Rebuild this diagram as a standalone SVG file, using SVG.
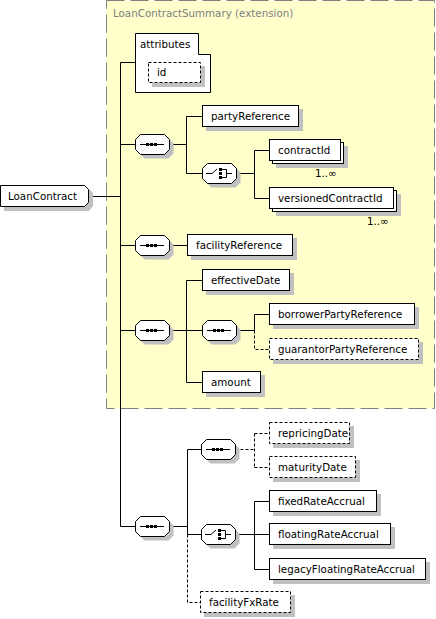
<svg xmlns="http://www.w3.org/2000/svg" xmlns:xlink="http://www.w3.org/1999/xlink" width="436" height="619" viewBox="0 0 436 619">
<style>
.box{fill:#fff;stroke:#000;stroke-width:1}
.opt{fill:#fff;stroke:#000;stroke-width:1;stroke-dasharray:3 2}
.sh{fill:#c0c0c0;stroke:none}
.ln{fill:none;stroke:#000;stroke-width:1}
.dl{fill:none;stroke:#000;stroke-width:1;stroke-dasharray:3 2}
.ext{fill:#ffffcc;stroke:#808080;stroke-width:1;stroke-dasharray:18 6}
text{font-family:"DejaVu Sans",Verdana,sans-serif;font-size:10.3px;fill:#000}
.extl{fill:#808080}
.ic{fill:#000;stroke:none}
</style>
<defs>
<g id="seq">
<path class="sh" d="M9.5,4.5 H33.5 L38.5,9.5 V19.5 L33.5,24.5 H9.5 L4.5,19.5 V9.5 Z"/>
<path class="box" d="M5.5,0.5 H29.5 L34.5,5.5 V15.5 L29.5,20.5 H5.5 L0.5,15.5 V5.5 Z"/>
<path class="ln" d="M5,10.5 H29"/>
<rect class="ic" x="11" y="9" width="3" height="3"/>
<rect class="ic" x="15" y="9" width="3" height="3"/>
<rect class="ic" x="19" y="9" width="3" height="3"/>
</g>
<g id="choice">
<path class="sh" d="M9.5,4.5 H33.5 L38.5,9.5 V19.5 L33.5,24.5 H9.5 L4.5,19.5 V9.5 Z"/>
<path class="box" d="M5.5,0.5 H29.5 L34.5,5.5 V15.5 L29.5,20.5 H5.5 L0.5,15.5 V5.5 Z"/>
<path class="ln" d="M4,10.5 H10 L15,6 M20,6.5 H24.5 V14.5 H20 M24.5,10.5 H30"/>
<rect class="ic" x="17" y="5" width="3" height="3"/>
<rect class="ic" x="17" y="9" width="3" height="3"/>
<rect class="ic" x="17" y="13" width="3" height="3"/>
</g>
</defs>

<g id="extension">
<rect class="ext" x="106.5" y="0.5" width="328" height="408"/>
<text class="extl" x="113" y="17">LoanContractSummary (extension)</text>
</g>

<g id="connectors">
<path class="ln" d="M89,196.5 H120.5 M120.5,62.5 V526.5 M120.5,62.5 H135.5 M120.5,144.5 H135.5 M120.5,245.5 H135.5 M120.5,330.5 H135.5 M120.5,526.5 H135.5"/>
<path class="ln" d="M169.5,144.5 H186.5 M186.5,116.5 V173.5 M186.5,116.5 H202.5 M186.5,173.5 H202.5"/>
<path class="ln" d="M236.5,173.5 H254.5 M254.5,150.5 V198.5 M254.5,150.5 H269.5 M254.5,198.5 H269.5"/>
<path class="ln" d="M169.5,245.5 H187.5"/>
<path class="ln" d="M169.5,330.5 H202.5 M186.5,280.5 V382.5 M186.5,280.5 H202.5 M186.5,382.5 H202.5"/>
<path class="ln" d="M236.5,330.5 H254.5 M254.5,314.5 V330.5 M254.5,314.5 H269.5"/>
<path class="dl" d="M254.5,330.5 V349.5 H269.5"/>
<path class="ln" d="M169.5,526.5 H187.5 M187.5,449.5 V534.5 M187.5,449.5 H201.5 M187.5,534.5 H201.5"/>
<path class="dl" d="M187.5,534.5 V602.5 H200.5"/>
<path class="dl" d="M235.5,449.5 H254.5 M254.5,433.5 V467.5 M254.5,433.5 H269.5 M254.5,467.5 H269.5"/>
<path class="ln" d="M235.5,534.5 H254.5 M254.5,501.5 V569.5 M254.5,501.5 H269.5 M254.5,534.5 H269.5 M254.5,569.5 H269.5"/>
</g>

<g id="LoanContract">
<path class="sh" d="M4,189 H89 L93,193 V206 L89,211 H4 Z"/>
<path class="box" d="M0.5,185.5 H84.5 L88.5,189.5 V202.5 L84.5,206.5 H0.5 Z"/>
<text x="8" y="200">LoanContract</text>
</g>

<g id="attributes">
<path class="box" d="M135.5,33.5 H198.5 V54.5 H210.5 V92.5 H135.5 Z"/>
<text x="140" y="48">attributes</text>
<g id="attr-id">
<rect class="sh" x="152" y="66" width="53" height="21"/>
<rect class="opt" x="148.5" y="62.5" width="52" height="20"/>
<text x="157" y="76">id</text>
</g>
</g>

<g id="seq1"><use xlink:href="#seq" x="135" y="134"/></g>
<g id="partyReference">
<rect class="sh" x="206" y="109" width="97" height="22"/>
<rect class="box" x="202.5" y="105.5" width="96" height="21"/>
<text x="211" y="120">partyReference</text>
</g>
<g id="choice1"><use xlink:href="#choice" x="202" y="163"/></g>
<g id="contractId">
<rect class="sh" x="276" y="146" width="72" height="22"/>
<rect class="box" x="272.5" y="142.5" width="71" height="21"/>
<rect class="box" x="269.5" y="139.5" width="71" height="21"/>
<text x="278" y="154">contractId</text>
<text x="315" y="177">1..∞</text>
</g>
<g id="versionedContractId">
<rect class="sh" x="276" y="194" width="125" height="22"/>
<rect class="box" x="272.5" y="190.5" width="124" height="21"/>
<rect class="box" x="269.5" y="187.5" width="124" height="21"/>
<text x="278" y="202">versionedContractId</text>
<text x="367" y="225">1..∞</text>
</g>

<g id="seq2"><use xlink:href="#seq" x="135" y="235"/></g>
<g id="facilityReference">
<rect class="sh" x="191" y="238" width="106" height="22"/>
<rect class="box" x="187.5" y="234.5" width="105" height="21"/>
<text x="196" y="249">facilityReference</text>
</g>

<g id="seq3"><use xlink:href="#seq" x="135" y="320"/></g>
<g id="effectiveDate">
<rect class="sh" x="206" y="273" width="88" height="22"/>
<rect class="box" x="202.5" y="269.5" width="87" height="21"/>
<text x="211" y="284">effectiveDate</text>
</g>
<g id="seq3b"><use xlink:href="#seq" x="202" y="320"/></g>
<g id="borrowerPartyReference">
<rect class="sh" x="273" y="307" width="146" height="22"/>
<rect class="box" x="269.5" y="303.5" width="145" height="21"/>
<text x="278" y="318">borrowerPartyReference</text>
</g>
<g id="guarantorPartyReference">
<rect class="sh" x="273" y="342" width="150" height="22"/>
<rect class="opt" x="269.5" y="338.5" width="149" height="21"/>
<text x="278" y="353">guarantorPartyReference</text>
</g>
<g id="amount">
<rect class="sh" x="206" y="375" width="59" height="22"/>
<rect class="box" x="202.5" y="371.5" width="58" height="21"/>
<text x="211" y="386">amount</text>
</g>

<g id="seq4"><use xlink:href="#seq" x="135" y="516"/></g>
<g id="seq5"><use xlink:href="#seq" x="201" y="439"/></g>
<g id="repricingDate">
<rect class="sh" x="273" y="426" width="81" height="22"/>
<rect class="opt" x="269.5" y="422.5" width="80" height="21"/>
<text x="278" y="437">repricingDate</text>
</g>
<g id="maturityDate">
<rect class="sh" x="273" y="460" width="87" height="22"/>
<rect class="opt" x="269.5" y="456.5" width="86" height="21"/>
<text x="278" y="471">maturityDate</text>
</g>
<g id="choice2"><use xlink:href="#choice" x="201" y="524"/></g>
<g id="fixedRateAccrual">
<rect class="sh" x="273" y="494" width="108" height="22"/>
<rect class="box" x="269.5" y="490.5" width="107" height="21"/>
<text x="278" y="505">fixedRateAccrual</text>
</g>
<g id="floatingRateAccrual">
<rect class="sh" x="273" y="527" width="122" height="22"/>
<rect class="box" x="269.5" y="523.5" width="121" height="21"/>
<text x="278" y="538">floatingRateAccrual</text>
</g>
<g id="legacyFloatingRateAccrual">
<rect class="sh" x="273" y="562" width="157" height="22"/>
<rect class="box" x="269.5" y="558.5" width="156" height="21"/>
<text x="278" y="573">legacyFloatingRateAccrual</text>
</g>
<g id="facilityFxRate">
<rect class="sh" x="204" y="595" width="91" height="22"/>
<rect class="opt" x="200.5" y="591.5" width="90" height="21"/>
<text x="209" y="606">facilityFxRate</text>
</g>
</svg>
